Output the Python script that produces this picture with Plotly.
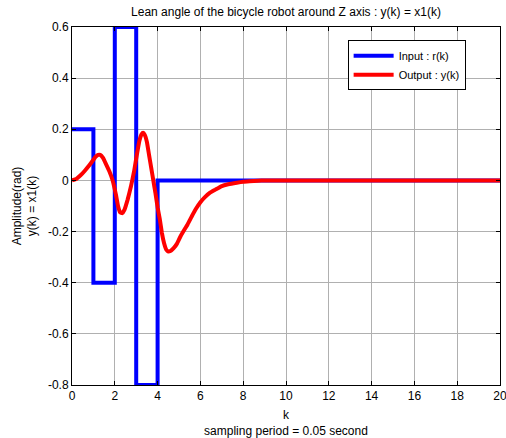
import plotly.graph_objects as go

# Input r(k): step levels
x_in = [0, 1, 2, 3, 4, 20]
y_in = [0.2, -0.4, 0.6, -0.8, 0, 0]

# Output y(k): values
x_out = [0, 0.2, 0.4, 0.6, 0.8, 0.95, 1.1, 1.22, 1.32, 1.45, 1.6, 1.75, 1.9, 2.05, 2.15,
         2.25, 2.35, 2.45, 2.6, 2.75, 2.9, 3.05, 3.15, 3.25, 3.32, 3.4, 3.5, 3.6, 3.7,
         3.8, 3.9, 4.0, 4.1, 4.2, 4.3, 4.4, 4.5, 4.6, 4.75, 4.9, 5.05, 5.2, 5.4, 5.6,
         5.8, 6.0, 6.2, 6.45, 6.7, 7.0, 7.3, 7.7, 8.0, 8.3, 8.7, 9.0, 10, 20]
y_out = [0, 0.006, 0.02, 0.038, 0.058, 0.075, 0.092, 0.1, 0.1, 0.088, 0.062, 0.035, 0.0,
         -0.055, -0.1, -0.125, -0.128, -0.115, -0.075, -0.025, 0.035, 0.11, 0.155, 0.18,
         0.186, 0.178, 0.15, 0.1, 0.05, 0.0, -0.05, -0.105, -0.15, -0.205, -0.245, -0.27,
         -0.278, -0.276, -0.265, -0.248, -0.222, -0.2, -0.172, -0.14, -0.11, -0.085,
         -0.066, -0.048, -0.036, -0.022, -0.015, -0.009, -0.005, -0.003, -0.001, 0, 0, 0]

x_ticks = list(range(0, 21, 2))
y_ticks = [-0.8, -0.6, -0.4, -0.2, 0, 0.2, 0.4, 0.6]
y_tick_text = ["-0.8", "-0.6", "-0.4", "-0.2", "0", "0.2", "0.4", "0.6"]

fig = go.Figure()
fig.add_trace(go.Scatter(x=x_in, y=y_in, mode="lines", name="Input : r(k)",
                         line=dict(color="#0000ff", width=4, shape="hv")))
fig.add_trace(go.Scatter(x=x_out, y=y_out, mode="lines", name="Output : y(k)",
                         line=dict(color="#ff0000", width=4, shape="spline", smoothing=0.3)))

font = "Liberation Sans, Arial, sans-serif"
fig.update_layout(
    width=506, height=438,
    margin=dict(l=72, r=6, t=27, b=53, autoexpand=False),
    paper_bgcolor="white", plot_bgcolor="white",
    font=dict(family=font, size=12, color="black"),
    title=dict(text="Lean angle of the bicycle robot around Z axis : y(k) = x1(k)",
               x=0.5, xref="paper", xanchor="center", yref="container",
               y=1 - 12 / 438, yanchor="middle", font=dict(size=12)),
    showlegend=True,
    legend=dict(x=0.644, y=0.963, xanchor="left", yanchor="top",
                bgcolor="white", bordercolor="black", borderwidth=1,
                font=dict(size=11), tracegroupgap=0, itemwidth=40),
    xaxis=dict(range=[0, 20], tickvals=x_ticks, showgrid=True, gridcolor="#b0b0b0",
               gridwidth=1, showline=True, linecolor="black", linewidth=1, mirror="ticks",
               ticks="inside", ticklen=4, tickcolor="black", zeroline=False,
               automargin=False, ticklabeloverflow="allow",
               title=dict(text="k<br>sampling period = 0.05 second", standoff=9,
                          font=dict(size=12))),
    yaxis=dict(range=[-0.8, 0.6], tickvals=y_ticks, ticktext=y_tick_text, showgrid=True,
               gridcolor="#b0b0b0", gridwidth=1, showline=True, linecolor="black",
               linewidth=1, mirror="ticks", ticks="inside", ticklen=4, tickcolor="black",
               zeroline=False, automargin=False,
               title=dict(text="Amplitude(rad)<br>y(k) = x1(k)", standoff=8,
                          font=dict(size=12))),
)

fig.write_html("out.html", config={"displayModeBar": False},
               post_script="document.body.style.margin='0';document.body.style.padding='0';")
